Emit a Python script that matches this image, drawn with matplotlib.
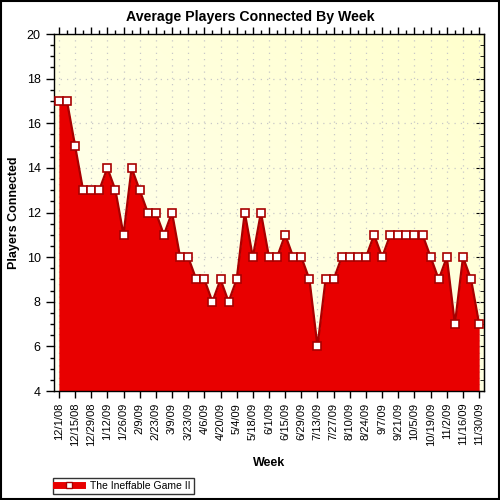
import numpy as np
import matplotlib
matplotlib.use("Agg")
import matplotlib.pyplot as plt
from matplotlib.lines import Line2D
from matplotlib.patches import Rectangle

plt.rcParams['font.family'] = ['Liberation Sans', 'DejaVu Sans']

# Weekly average of connected players, 12/1/08 .. 11/30/09
players = [17, 17, 15, 13, 13, 13, 14, 13, 11, 14, 13, 12, 12, 11, 12, 10,
           10, 9, 9, 8, 9, 8, 9, 12, 10, 12, 10, 10, 11, 10, 10, 9, 6, 9, 9,
           10, 10, 10, 10, 11, 10, 11, 11, 11, 11, 11, 10, 9, 10, 7, 10, 9, 7]

# labels shown every second week
week_labels = ['12/1/08', '12/15/08', '12/29/08', '1/12/09', '1/26/09', '2/9/09',
               '2/23/09', '3/9/09', '3/23/09', '4/6/09', '4/20/09', '5/4/09',
               '5/18/09', '6/1/09', '6/15/09', '6/29/09', '7/13/09', '7/27/09',
               '8/10/09', '8/24/09', '9/7/09', '9/21/09', '10/5/09', '10/19/09',
               '11/2/09', '11/16/09', '11/30/09']
series_name = 'The Ineffable Game II'

x = np.arange(len(players))

fig = plt.figure(figsize=(5, 5), dpi=100)
ax = fig.add_axes([0.108, 0.218, 0.860, 0.714])

# background gradient (white-ish bottom left -> pale yellow top right)
gx, gy = np.meshgrid(np.linspace(0, 1, 200), np.linspace(0, 1, 200))
t = (gx + gy) / 2
grad = np.zeros((200, 200, 3))
grad[..., 0] = 1.0
grad[..., 1] = 1.0
grad[..., 2] = (245 - 40 * t) / 255
ax.imshow(grad, extent=[0, 1, 0, 1], origin='lower', transform=ax.transAxes,
          aspect='auto', zorder=0)

ax.fill_between(x, 4, players, color='#E80000', lw=0, zorder=2)
ax.plot(x, players, color='#A80000', lw=1.6, zorder=3)
ax.plot(x, players, ls='none', marker='s', ms=6, mfc='white', mec='#A80000',
        mew=1.2, zorder=4)

ax.set_xlim(-0.6, len(players) - 0.4)
ax.set_ylim(4, 20)
ax.set_xticks(x[::2])
ax.set_xticklabels(week_labels, rotation=90, fontsize=8)
ax.set_xticks(x, minor=True)
ax.set_yticks(np.arange(4, 21, 2))
ax.set_yticks(np.arange(4, 20.1, 0.5), minor=True)
ax.tick_params(axis='y', which='major', labelsize=9, length=6, width=1)
ax.tick_params(axis='y', which='minor', length=3, width=1)
ax.tick_params(axis='x', which='major', length=5, width=1, top=True)
ax.tick_params(axis='x', which='minor', length=3, width=1, bottom=False, top=True)

sec = ax.secondary_yaxis('right')
sec.set_yticks(np.arange(4, 21, 2))
sec.set_yticks(np.arange(4, 20.1, 0.5), minor=True)
sec.tick_params(which='major', direction='in', length=6, labelright=False)
sec.tick_params(which='minor', direction='in', length=3)

ax.grid(True, which='major', color='#C8C8C8', linestyle=(0, (1, 4)), lw=0.9)
ax.set_axisbelow(True)
for s in ax.spines.values():
    s.set_linewidth(1)

# title is centred on the whole picture, not on the plot area
fig.text(0.5, 0.965, 'Average Players Connected By Week', fontsize=10.2,
         fontweight='bold', ha='center', va='center')
ax.set_ylabel('Players Connected', fontsize=9, fontweight='bold', labelpad=5)
ax.set_xlabel('Week', fontsize=9, fontweight='bold', labelpad=8)

handle = Line2D([0], [0], color='#E80000', lw=5, marker='s', ms=5,
                mfc='white', mec='#A80000')
leg = fig.legend([handle], [series_name], loc='lower left',
                 bbox_to_anchor=(0.106, 0.012), fontsize=7.5, frameon=True,
                 fancybox=False, edgecolor='black', handlelength=2.5,
                 borderpad=0.3, borderaxespad=0)
leg.get_frame().set_linewidth(1)

fig.patches.append(Rectangle((0.002, 0.002), 0.996, 0.996, transform=fig.transFigure,
                             fill=False, edgecolor='black', lw=1.5))

fig.savefig('out.png', dpi=100)
